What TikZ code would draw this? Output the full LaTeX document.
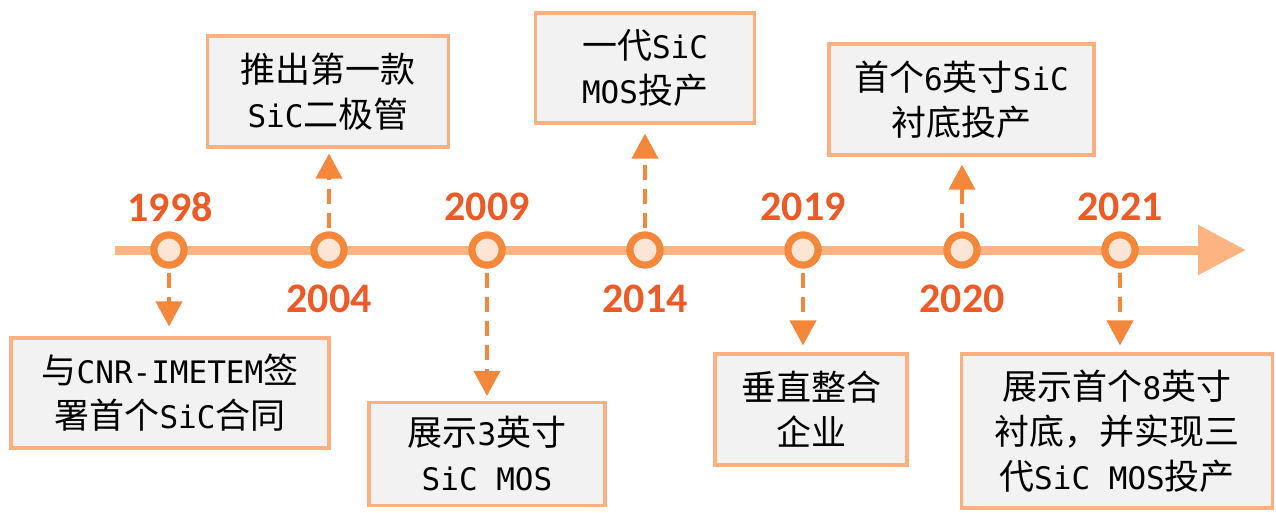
\documentclass[tikz,border=0pt]{standalone}
\usepackage{fontspec}
\newfontfamily\cjk{Noto Sans CJK SC}
\newfontfamily\yearfont{Carlito}
\newfontfamily\latmono{DejaVu Sans Mono}
\newcommand{\lm}[1]{{\latmono\fontsize{31}{45}\selectfont #1}}
\usetikzlibrary{arrows.meta}
\definecolor{lineC}{HTML}{FDB483}
\definecolor{ringC}{HTML}{F5873A}
\definecolor{dotC}{HTML}{FDE5D6}
\definecolor{yearC}{HTML}{EE5A26}
\definecolor{boxB}{HTML}{FCB07F}
\definecolor{boxF}{HTML}{F2F2F2}
\tikzset{
  dot/.style={circle, draw=ringC, fill=dotC, line width=7pt, minimum size=30pt, inner sep=0pt},
  year/.style={text=yearC, font=\yearfont\bfseries\fontsize{42}{42}\selectfont, inner sep=0pt},
  infobox/.style={draw=boxB, fill=boxF, line width=3.2pt, inner sep=0pt, align=center,
    font=\cjk\fontsize{35}{45}\selectfont},
  link/.style={draw=ringC, line width=4pt, dash pattern=on 15pt off 9pt,
    -{Triangle[width=26pt,length=25pt]}},
}
\begin{document}
\begin{tikzpicture}[x=1pt,y=-1pt]
\useasboundingbox (0,0) rectangle (1276,512);
% timeline
\coordinate (tl0) at (115,250);
\coordinate (tl1) at (1246,250);
\draw[lineC, line width=9pt, -{Triangle[width=48pt,length=48pt]}] (tl0) -- (tl1);
% boxes
\node[infobox, minimum width=318pt, minimum height=110pt] (b1) at (170,393) {与\lm{CNR-IMETEM}签\\署首个\lm{SiC}合同};
\node[infobox, minimum width=241pt, minimum height=111pt] (b2) at (328,91.5) {推出第一款\\\lm{SiC}二极管};
\node[infobox, minimum width=236pt, minimum height=103pt] (b3) at (487,454) {展示\lm{3}英寸\\\lm{SiC MOS}};
\node[infobox, minimum width=219pt, minimum height=110pt] (b4) at (645,68) {一代\lm{SiC}\\\lm{MOS}投产};
\node[infobox, minimum width=192pt, minimum height=111pt] (b5) at (811,409.5) {垂直整合\\企业};
\node[infobox, minimum width=265pt, minimum height=111pt] (b6) at (961.5,99.5) {首个\lm{6}英寸\lm{SiC}\\衬底投产};
\node[infobox, minimum width=311pt, minimum height=154pt] (b7) at (1117,431) {展示首个\lm{8}英寸\\衬底，并实现三\\代\lm{SiC MOS}投产};
% dots
\node[dot] (c1) at (169,250) {};
\node[dot] (c2) at (329,250) {};
\node[dot] (c3) at (487,250) {};
\node[dot] (c4) at (645,250) {};
\node[dot] (c5) at (803,250) {};
\node[dot] (c6) at (962,250) {};
\node[dot] (c7) at (1120,250) {};
% links
\draw[link, shorten <=4pt, shorten >=10pt] (c1.south) -- (c1.south |- b1.north);
\draw[link, shorten <=4pt, shorten >=5pt] (c2.north) -- (c2.north |- b2.south);
\draw[link, shorten <=4pt, shorten >=5pt] (c3.south) -- (c3.south |- b3.north);
\draw[link, shorten <=4pt, shorten >=9pt] (c4.north) -- (c4.north |- b4.south);
\draw[link, shorten <=4pt, shorten >=7pt] (c5.south) -- (c5.south |- b5.north);
\draw[link, shorten <=4pt, shorten >=8pt] (c6.north) -- (c6.north |- b6.south);
\draw[link, shorten <=4pt, shorten >=7pt] (c7.south) -- (c7.south |- b7.north);
% redraw dots on top
\foreach \n in {c1,c2,c3,c4,c5,c6,c7} {\node[dot] at (\n) {};}
% years
\node[year] (y1) at (170,207) {1998};
\node[year] (y2) at (329,299) {2004};
\node[year] (y3) at (487,207) {2009};
\node[year] (y4) at (645,299) {2014};
\node[year] (y5) at (803,207) {2019};
\node[year] (y6) at (962,299) {2020};
\node[year] (y7) at (1120,207) {2021};
\end{tikzpicture}
\end{document}
